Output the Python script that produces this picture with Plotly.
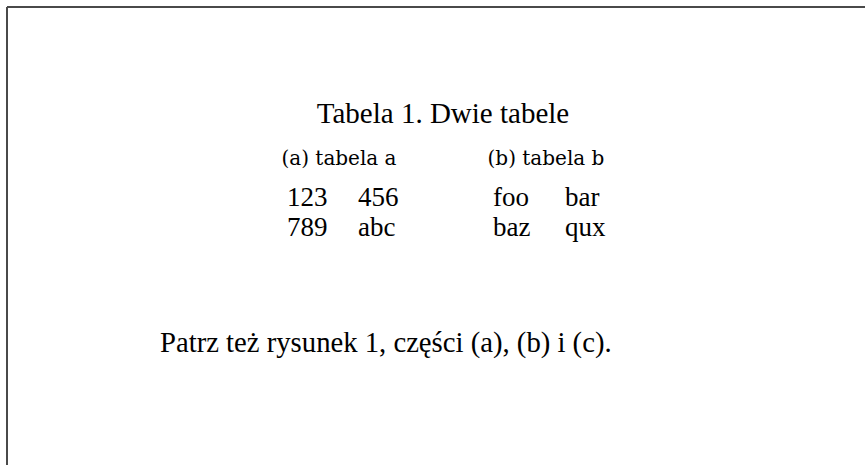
import plotly.graph_objects as go

# data
caption = "Tabela 1. Dwie tabele"
sub_captions = ["(a) tabela a", "(b) tabela b"]
table_a = [["123", "456"], ["789", "abc"]]
table_b = [["foo", "bar"], ["baz", "qux"]]
footer = "Patrz też rysunek 1, części (a), (b) i (c)."

W, H = 865, 465
FONT = "Liberation Serif"

# layout in page pixels
col_x = {"a": [287, 358], "b": [493, 565]}
sub_x = {"a": 339, "b": 546}
row_y = [199, 229]
sub_y = 160

fig = go.Figure()

# caption
fig.add_trace(go.Scatter(x=[443], y=[116], text=[caption], mode="text",
                         textposition="middle center",
                         textfont=dict(family=FONT, size=29, color="black"),
                         hoverinfo="skip"))

# sub captions
for key, sc in zip(["a", "b"], sub_captions):
    fig.add_trace(go.Scatter(x=[sub_x[key]], y=[sub_y], text=[sc], mode="text",
                             textposition="middle center",
                             textfont=dict(family="DejaVu Serif", size=20, color="black"),
                             hoverinfo="skip"))

# table cells (left aligned columns)
for key, tbl in zip(["a", "b"], [table_a, table_b]):
    xs, ys, ts = [], [], []
    for r, row in enumerate(tbl):
        for c, cell in enumerate(row):
            xs.append(col_x[key][c])
            ys.append(row_y[r])
            ts.append(cell)
    fig.add_trace(go.Scatter(x=xs, y=ys, text=ts, mode="text",
                             textposition="middle right",
                             textfont=dict(family=FONT, size=27, color="black"),
                             hoverinfo="skip"))

# footer sentence
fig.add_trace(go.Scatter(x=[160], y=[345], text=[footer], mode="text",
                         textposition="middle right",
                         textfont=dict(family=FONT, size=28.7, color="black"),
                         hoverinfo="skip"))

fig.update_layout(
    width=W, height=H,
    margin=dict(l=0, r=0, t=0, b=0),
    paper_bgcolor="white", plot_bgcolor="white",
    showlegend=False,
    xaxis=dict(range=[0, W], visible=False, fixedrange=True),
    yaxis=dict(range=[H, 0], visible=False, fixedrange=True),
    shapes=[
        dict(type="line", x0=7, y0=7, x1=W, y1=7, line=dict(color="#4a4a4a", width=2)),
        dict(type="line", x0=7, y0=7, x1=7, y1=H, line=dict(color="#4a4a4a", width=2)),
    ],
)

# drop the default 8px page margin so the figure sits at the window corner
fig.write_html("out.html", config={"displayModeBar": False},
               post_script="document.body.style.margin='0px';")
